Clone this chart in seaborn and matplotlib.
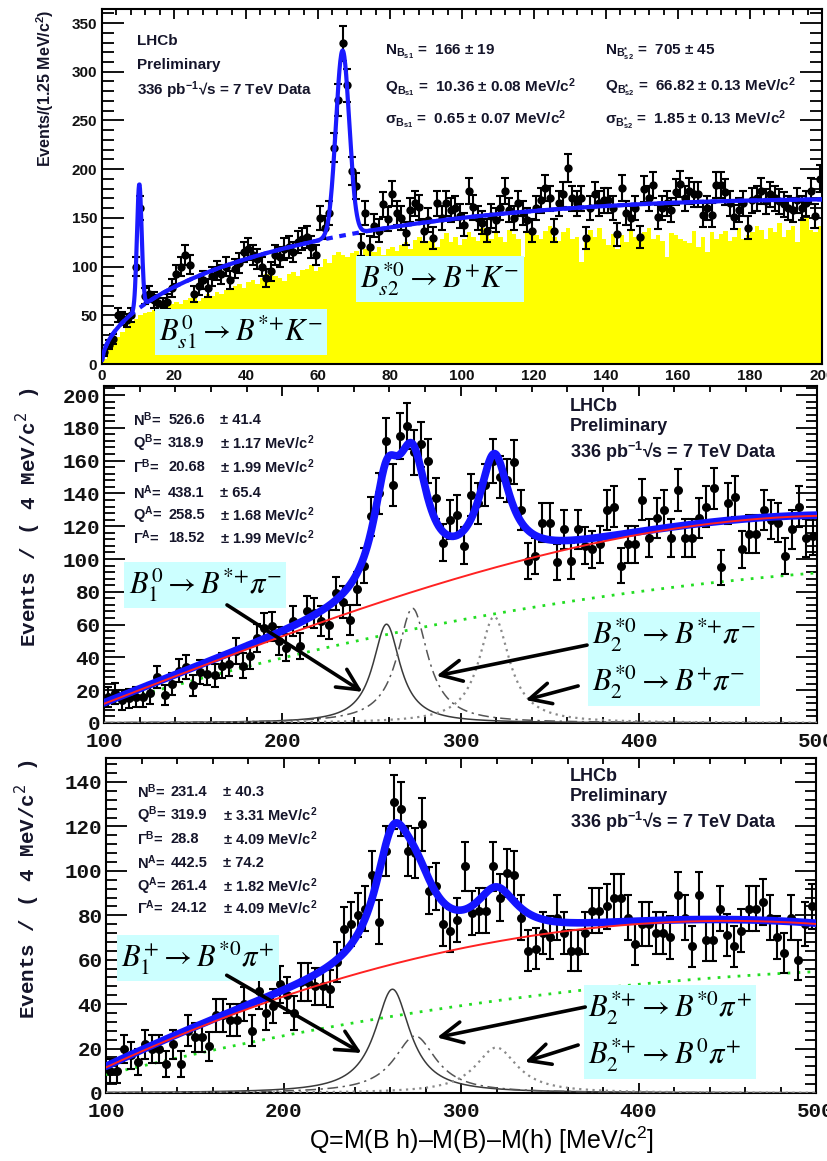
import numpy as np
import pandas as pd
import matplotlib
matplotlib.use("Agg")
import matplotlib.pyplot as plt
from matplotlib.patches import Rectangle
from matplotlib.ticker import MultipleLocator
import seaborn as sns

sns.set_style("ticks")
plt.rcParams.update({
    "font.family": ["Liberation Sans", "DejaVu Sans"],
    "mathtext.fontset": "custom",
    "mathtext.rm": "Liberation Sans",
    "mathtext.it": "Liberation Sans:italic",
    "mathtext.bf": "Liberation Sans:bold",
    "mathtext.sf": "Liberation Sans",
    "axes.linewidth": 1.5,
    "axes.edgecolor": "black",
})

W, H = 827, 1161

# ---------------- data ----------------
# B+ K- spectrum, 1.25 MeV/c2 bins from 0 to 200
bk_lo, bk_width = 0.0, 1.25
bk_counts = [
    12, 20, 26, 50, 47, 45, 50, 100, 160, 70,
    72, 66, 63, 60, 64, 78, 92, 100, 112, 102,
    72, 80, 86, 78, 90, 96, 92, 100, 86, 98,
    104, 115, 118, 112, 108, 100, 88, 95, 112, 110,
    118, 120, 115, 125, 128, 130, 120, 112, 150, 140,
    155, 222, 271, 329, 286, 198, 183, 122, 155, 120,
    142, 137, 164, 149, 175, 155, 150, 134, 158, 165,
    161, 137, 148, 129, 165, 150, 165, 158, 160, 152,
    143, 178, 161, 150, 145, 137, 152, 148, 160, 178,
    158, 150, 165, 155, 148, 137, 160, 168, 181, 170,
    137, 165, 174, 201, 170, 165, 170, 129, 160, 174,
    165, 168, 168, 160, 133, 181, 155, 150, 160, 130,
    180, 170, 184, 151, 160, 165, 158, 177, 185, 170,
    178, 174, 174, 153, 160, 153, 184, 184, 177, 165,
    151, 158, 165, 140, 168, 170, 178, 167, 174, 170,
    167, 164, 160, 158, 168, 160, 165, 178, 152, 190,
]
# wrong-sign B+ K+ combinations, same binning
bk_wrong_sign = [
    5, 14, 22, 28, 33, 38, 42, 46,
    50, 52, 53, 55, 56, 58, 60, 62,
    64, 62, 66, 68, 70, 65, 68, 72,
    70, 74, 72, 76, 78, 80, 82, 78,
    84, 86, 82, 88, 92, 95, 90, 88,
    85, 92, 94, 90, 96, 98, 102, 95,
    100, 108, 104, 112, 115, 112, 110, 114,
    116, 112, 118, 118, 115, 120, 112, 118,
    120, 116, 122, 125, 118, 127, 130, 124,
    126, 132, 120, 128, 134, 125, 130, 122,
    128, 135, 130, 126, 140, 132, 128, 136,
    130, 125, 138, 133, 128, 110, 135, 140,
    132, 128, 137, 142, 130, 126, 135, 140,
    128, 130, 105, 125, 138, 130, 140, 128,
    122, 133, 118, 132, 125, 137, 130, 127,
    135, 140, 128, 132, 126, 110, 134, 132,
    128, 126, 124, 137, 120, 130, 115, 135,
    128, 133, 137, 126, 130, 140, 128, 132,
    135, 142, 138, 128, 140, 135, 145, 130,
    138, 142, 125, 147, 150, 138, 135, 142,
]

# B pi spectra, 4 MeV/c2 bins from 100 to 500
bpi_lo, bpi_width = 100.0, 4.0
b0pi_counts = [
    16, 18, 14, 15, 16, 16, 18, 28, 17, 24,
    32, 34, 23, 31, 30, 29, 35, 36, 44, 35,
    41, 52, 58, 59, 50, 46, 62, 47, 68, 67,
    62, 60, 79, 74, 63, 82, 96, 126, 140, 172,
    145, 175, 181, 165, 170, 160, 137, 110, 124, 127,
    108, 139, 134, 145, 160, 150, 148, 159, 130, 99,
    102, 122, 122, 98, 118, 99, 118, 108, 106, 109,
    130, 132, 96, 109, 109, 136, 113, 125, 130, 113,
    142, 113, 113, 125, 132, 143, 95, 134, 138, 106,
    115, 115, 130, 124, 122, 102, 118, 132, 113, 114,
]
bppi_counts = [
    10, 10, 20, 17, 14, 22, 20, 20, 13, 22,
    13, 28, 25, 25, 21, 35, 35, 33, 33, 40,
    28, 46, 36, 39, 49, 44, 36, 50, 50, 48,
    48, 47, 59, 74, 76, 80, 83, 98, 77, 109,
    131, 128, 109, 108, 121, 91, 93, 76, 73, 78,
    102, 81, 82, 82, 102, 88, 99, 98, 79, 64,
    65, 72, 70, 79, 72, 64, 64, 72, 82, 82,
    84, 88, 88, 79, 67, 76, 76, 72, 72, 70,
    89, 79, 66, 89, 69, 69, 83, 71, 66, 73,
    83, 83, 86, 79, 70, 63, 79, 60, 76, 84,
]
# extra variance from the sWeights on top of the Poisson term
sweight_var = 20.0

# fitted parameters, as quoted on the plots
bs1 = {"N": 166, "Q": 10.36, "sigma": 0.65}
bs2 = {"N": 705, "Q": 66.82, "sigma": 1.85}
bk_bkg_amp, bk_bkg_pow, bk_bkg_slope = 17.55, 0.518, 0.0024

b0_fit = {"NA": 438.1, "QA": 258.5, "GA": 18.52,
          "NB": 526.6, "QB": 318.9, "GB": 20.68, "NBstar": 568}
bp_fit = {"NA": 442.5, "QA": 261.4, "GA": 24.12,
          "NB": 231.4, "QB": 319.9, "GB": 28.8, "NBstar": 290}
bstar_gap = 45.8   # M(B*) - M(B), the photon is not reconstructed

# smooth background shapes of the B pi fits
b0_bkg_q = [101.7, 154, 200.6, 229, 266, 277.5, 341, 378, 434, 500]
b0_bkg = [14, 32, 50.6, 65, 80, 83, 101, 108.5, 120, 127]
b0_comb_q = [102, 174, 229, 268, 341, 416, 500]
b0_comb = [12, 31, 46.5, 58, 71, 81, 92]
bp_bkg_q = [102, 153, 200.6, 229, 267, 278, 342.6, 385, 500]
bp_bkg = [14, 27, 41, 52, 62, 63, 70, 73.4, 76.6]
bp_comb_q = [102, 172, 229, 267, 278, 342.6, 418, 500]
bp_comb = [7.3, 23, 31.5, 35, 36, 43, 49.5, 55.4]

b0_text = [("N$^{\\mathbf{B}}$=", "526.6", "± 41.4"),
           ("Q$^{\\mathbf{B}}$=", "318.9", "± 1.17 MeV/c$^{\\mathbf{2}}$"),
           ("Γ$^{\\mathbf{B}}$=", "20.68", "± 1.99 MeV/c$^{\\mathbf{2}}$"),
           ("N$^{\\mathbf{A}}$=", "438.1", "± 65.4"),
           ("Q$^{\\mathbf{A}}$=", "258.5", "± 1.68 MeV/c$^{\\mathbf{2}}$"),
           ("Γ$^{\\mathbf{A}}$=", "18.52", "± 1.99 MeV/c$^{\\mathbf{2}}$")]
bp_text = [("N$^{\\mathbf{B}}$=", "231.4", "± 40.3"),
           ("Q$^{\\mathbf{B}}$=", "319.9", "± 3.31 MeV/c$^{\\mathbf{2}}$"),
           ("Γ$^{\\mathbf{B}}$=", "28.8", "± 4.09 MeV/c$^{\\mathbf{2}}$"),
           ("N$^{\\mathbf{A}}$=", "442.5", "± 74.2"),
           ("Q$^{\\mathbf{A}}$=", "261.4", "± 1.82 MeV/c$^{\\mathbf{2}}$"),
           ("Γ$^{\\mathbf{A}}$=", "24.12", "± 4.09 MeV/c$^{\\mathbf{2}}$")]

TXT = "#15152a"
BOX = "#ccffff"


# ---------------- helpers ----------------
def px_rect(l, t, r, b):
    return [l / W, 1 - b / H, (r - l) / W, (b - t) / H]


def gauss(q, n, q0, sigma, binw):
    return n * binw / (np.sqrt(2 * np.pi) * sigma) * np.exp(-0.5 * ((q - q0) / sigma) ** 2)


def bw(q, n, q0, gamma, binw):
    return n * binw * 2.0 / (np.pi * gamma) / (1.0 + ((q - q0) / (gamma / 2.0)) ** 2)


def smooth(kq, kv, q, deg=3):
    return np.polyval(np.polyfit(kq, kv, deg), q)


def style_axes(ax, xticks, yticks, xminor, yminor, xlen, ylen, family, size, xpad, ypad):
    ax.set_xticks(xticks)
    ax.set_yticks(yticks)
    ax.set_xticklabels([str(t) for t in xticks], fontfamily=family, fontweight="bold",
                       fontsize=size, color="#111111")
    ax.set_yticklabels([str(t) for t in yticks], fontfamily=family, fontweight="bold",
                       fontsize=size, color="#111111")
    ax.xaxis.set_minor_locator(MultipleLocator(xminor))
    ax.yaxis.set_minor_locator(MultipleLocator(yminor))
    ax.tick_params(which="both", direction="in", top=True, right=True,
                   bottom=True, left=True, width=1.3, color="black")
    ax.tick_params(axis="x", which="major", length=xlen, pad=xpad)
    ax.tick_params(axis="x", which="minor", length=xlen * 0.55)
    ax.tick_params(axis="y", which="major", length=ylen, pad=ypad)
    ax.tick_params(axis="y", which="minor", length=ylen * 0.55)
    for s in ax.spines.values():
        s.set_visible(True)
        s.set_linewidth(1.5)
    ax.set_xlabel("")
    ax.set_ylabel("")


def draw_points(ax, x, y, err, size):
    ax.errorbar(x, y, yerr=err, fmt="none", ecolor="black", elinewidth=1.5,
                capsize=3.2, capthick=1.5, zorder=4)
    sns.scatterplot(x=x, y=y, ax=ax, color="black", s=size, linewidth=0,
                    zorder=5, legend=False)


def box(ax, x, y, s):
    ax.text(x, y, s, ha="center", va="center", multialignment="left",
            fontsize=22, math_fontfamily="stix", color="black", linespacing=1.35,
            bbox=dict(boxstyle="square,pad=0.14", facecolor=BOX, edgecolor="none"),
            zorder=8)


def arrow(ax, start, end):
    ax.annotate("", xy=end, xytext=start,
                arrowprops=dict(arrowstyle="->,head_length=0.85,head_width=0.42",
                                lw=2.6, color="black", shrinkA=0, shrinkB=0,
                                mutation_scale=18),
                zorder=9)


fig = plt.figure(figsize=(W / 100, H / 100), dpi=100)
fig.patch.set_facecolor("white")

# ================= top: B+ K- =================
ax1 = fig.add_axes(px_rect(102, 9, 822, 364))
ax1.set_zorder(0)
bk_counts_a = np.asarray(bk_counts, float)
bk_x = bk_lo + bk_width * (np.arange(len(bk_counts_a)) + 0.5)
bk_edges = (bk_lo + bk_width * np.arange(len(bk_counts_a) + 1)).tolist()
ws_df = pd.DataFrame({"Q": bk_x, "n": np.asarray(bk_wrong_sign, float)})

sns.histplot(data=ws_df, x="Q", weights="n", bins=bk_edges, ax=ax1, color="#ffff00",
             alpha=1.0, linewidth=0, zorder=1)
draw_points(ax1, bk_x, bk_counts_a, np.sqrt(bk_counts_a), 36)

qf = np.linspace(0.05, 200, 1600)
bk_bkg = bk_bkg_amp * qf ** bk_bkg_pow * np.exp(-bk_bkg_slope * qf)
bk_total = (bk_bkg + gauss(qf, bs1["N"], bs1["Q"], bs1["sigma"], bk_width)
            + gauss(qf, bs2["N"], bs2["Q"], bs2["sigma"], bk_width))
ax1.plot(qf, bk_bkg, color="#1a1aff", lw=3.0, ls=(0, (1.6, 1.6)), zorder=6)
sns.lineplot(x=qf, y=bk_total, ax=ax1, color="#1a1aff", linewidth=3.0,
             estimator=None, sort=False, zorder=7)

ax1.set_xlim(0, 200)
ax1.set_ylim(0, 364.4)
style_axes(ax1, list(range(0, 201, 20)), list(range(0, 351, 50)), 4, 10,
           7.5, 16, "Liberation Sans", 11, 3.5, 3.5)

ax1.text(-0.079, 0.997, "Events/(1.25 MeV/c$^{\\mathbf{2}}$)", transform=ax1.transAxes,
         rotation=90, ha="center", va="top", fontsize=11.5, fontweight="bold", color=TXT)
for txt, yv in (("LHCb", 332), ("Preliminary", 307),
                ("336 pb$^{\\mathbf{-1}}$√s = 7 TeV Data", 281)):
    ax1.text(9.7, yv, txt, ha="left", va="center", fontsize=11, fontweight="bold",
             color=TXT, zorder=8)
col1 = ["N$_{\\mathbf{B_{s1}}}$ =  166 ± 19",
        "Q$_{\\mathbf{B_{s1}}}$ =  10.36 ± 0.08 MeV/c$^{\\mathbf{2}}$",
        "σ$_{\\mathbf{B_{s1}}}$ =  0.65 ± 0.07 MeV/c$^{\\mathbf{2}}$"]
col2 = ["N$_{\\mathbf{B^{*}_{s2}}}$ =  705 ± 45",
        "Q$_{\\mathbf{B^{*}_{s2}}}$ =  66.82 ± 0.13 MeV/c$^{\\mathbf{2}}$",
        "σ$_{\\mathbf{B^{*}_{s2}}}$ =  1.85 ± 0.13 MeV/c$^{\\mathbf{2}}$"]
for i, yv in enumerate((320, 284, 250.5)):
    ax1.text(78.6, yv, col1[i], ha="left", va="center", fontsize=11,
             fontweight="bold", color=TXT, zorder=8)
    ax1.text(139.7, yv, col2[i], ha="left", va="center", fontsize=11,
             fontweight="bold", color=TXT, zorder=8)
box(ax1, 38.6, 32.9, r"$B_{s1}^{0} \rightarrow B^{*{+}}K^{-}$")
box(ax1, 93.9, 87.3, r"$B_{s2}^{*0} \rightarrow B^{+}K^{-}$")


# ================= B pi panels =================
def bpi_panel(rect, zorder, counts, fit, bkg_q, bkg_v, comb_q, comb_v, ylim,
              yticks, text_rows, text_x, text_y, lhcb_y, boxes, arrows, ylabel_x):
    ax = fig.add_axes(rect)
    ax.set_zorder(zorder)
    c = np.asarray(counts, float)
    x = bpi_lo + bpi_width * (np.arange(len(c)) + 0.5)
    q = np.linspace(100, 500, 1601)

    comb = smooth(comb_q, comb_v, q, 2)
    bkg = smooth(bkg_q, bkg_v, q, 3)
    sig_a = bw(q, fit["NA"], fit["QA"], fit["GA"], bpi_width)
    sig_bstar = bw(q, fit["NBstar"], fit["QB"] - bstar_gap, fit["GB"], bpi_width)
    sig_b = bw(q, fit["NB"], fit["QB"], fit["GB"], bpi_width)
    total = bkg + sig_a + sig_bstar + sig_b

    ax.plot(q, comb, color="#22dd22", lw=2.0, ls=(0, (1.0, 2.6)), zorder=3)
    ax.plot(q, sig_a, color="#3a3a3a", lw=1.1, zorder=3)
    ax.plot(q, sig_bstar, color="#555555", lw=1.1, ls=(0, (7, 3, 1.5, 3)), zorder=3)
    ax.plot(q, sig_b, color="#8a8a8a", lw=1.6, ls=(0, (1.0, 2.0)), zorder=3)
    draw_points(ax, x, c, np.sqrt(c + sweight_var), 42)
    sns.lineplot(x=q, y=total, ax=ax, color="#1414ff", linewidth=5.5,
                 estimator=None, sort=False, zorder=6)
    ax.plot(q, bkg, color="#ff2222", lw=1.4, zorder=7)

    ax.set_xlim(100, 500)
    ax.set_ylim(0, ylim)
    style_axes(ax, [100, 200, 300, 400, 500], yticks, 20, 4, 7.5, 15,
               "Liberation Mono", 15, 6.5, 2.5)
    ax.text(ylabel_x, 0.995, "Events / ( 4 MeV/c$^{2}$ )", transform=ax.transAxes,
            rotation=90, ha="center", va="top", fontsize=15, fontweight="bold",
            fontfamily="Liberation Mono", math_fontfamily="dejavusans", color=TXT)
    for (lab, val, err), yv in zip(text_rows, text_y):
        ax.text(text_x[0], yv, lab, ha="left", va="center", fontsize=10.5,
                fontweight="bold", color=TXT, zorder=8)
        ax.text(text_x[1], yv, val, ha="left", va="center", fontsize=10.5,
                fontweight="bold", color=TXT, zorder=8)
        ax.text(text_x[2], yv, err, ha="left", va="center", fontsize=10.5,
                fontweight="bold", color=TXT, zorder=8)
    for txt, yv in zip(("LHCb", "Preliminary", "336 pb$^{\\mathbf{-1}}$√s = 7 TeV Data"),
                       lhcb_y):
        ax.text(361.5, yv, txt, ha="left", va="center", fontsize=13,
                fontweight="bold", color=TXT, zorder=8)
    for bx, by, s in boxes:
        box(ax, bx, by, s)
    for st, en in arrows:
        arrow(ax, st, en)
    return ax


# white backing so each lower panel sits on top of the one above
cover2 = Rectangle((0, 1 - 748 / H), 1, (748 - 380) / H, transform=fig.transFigure,
                   facecolor="white", edgecolor="none", zorder=1)
fig.add_artist(cover2)
cover3 = Rectangle((0, 0), 1, 1 - 748 / H, transform=fig.transFigure,
                   facecolor="white", edgecolor="none", zorder=3)
fig.add_artist(cover3)

bpi_panel(px_rect(104, 386, 817, 723), 2, b0pi_counts, b0_fit,
          b0_bkg_q, b0_bkg, b0_comb_q, b0_comb, 205.5, list(range(0, 201, 20)),
          b0_text, (116.3, 136.0, 165.1), (184.8, 170.7, 156.0, 140.2, 126.8, 112.8),
          (192.7, 180.5, 165.0),
          [(156.7, 84.1, r"$B_{1}^{0} \rightarrow B^{*{+}}\pi^{-}$"),
           (419.8, 39.0, r"$B_{2}^{*0} \rightarrow B^{*{+}}\pi^{-}$" + "\n"
            + r"$B_{2}^{*0} \rightarrow B^{+}\pi^{-}$")],
          [((169, 72), (245, 19)), ((371, 47.5), (286.5, 28.7)),
           ((366, 22.6), (336.5, 14))],
          -0.1066)

bpi_panel(px_rect(106, 758, 816, 1093), 4, bppi_counts, bp_fit,
          bp_bkg_q, bp_bkg, bp_comb_q, bp_comb, 150.8, list(range(0, 141, 20)),
          bp_text, (117.5, 136.6, 166.0), (135.6, 125.2, 114.4, 103.6, 93.2, 83.3),
          (142.3, 133.3, 122.0),
          [(151.8, 60.8, r"$B_{1}^{+} \rightarrow B^{*0}\pi^{+}$"),
           (417.7, 27.5, r"$B_{2}^{*{+}} \rightarrow B^{*0}\pi^{+}$" + "\n"
            + r"$B_{2}^{*{+}} \rightarrow B^{0}\pi^{+}$")],
          [((168, 53), (244, 18)), ((370, 38.7), (286.5, 25)),
           ((366, 21.6), (336, 14))],
          -0.11)

fig.text(481 / W, 1 - 1140 / H, "Q=M(B h)–M(B)–M(h) [MeV/c$^{2}$]", ha="center",
         va="center", fontsize=18, color="black", zorder=10)

fig.savefig("out.png", dpi=100, facecolor="white")
